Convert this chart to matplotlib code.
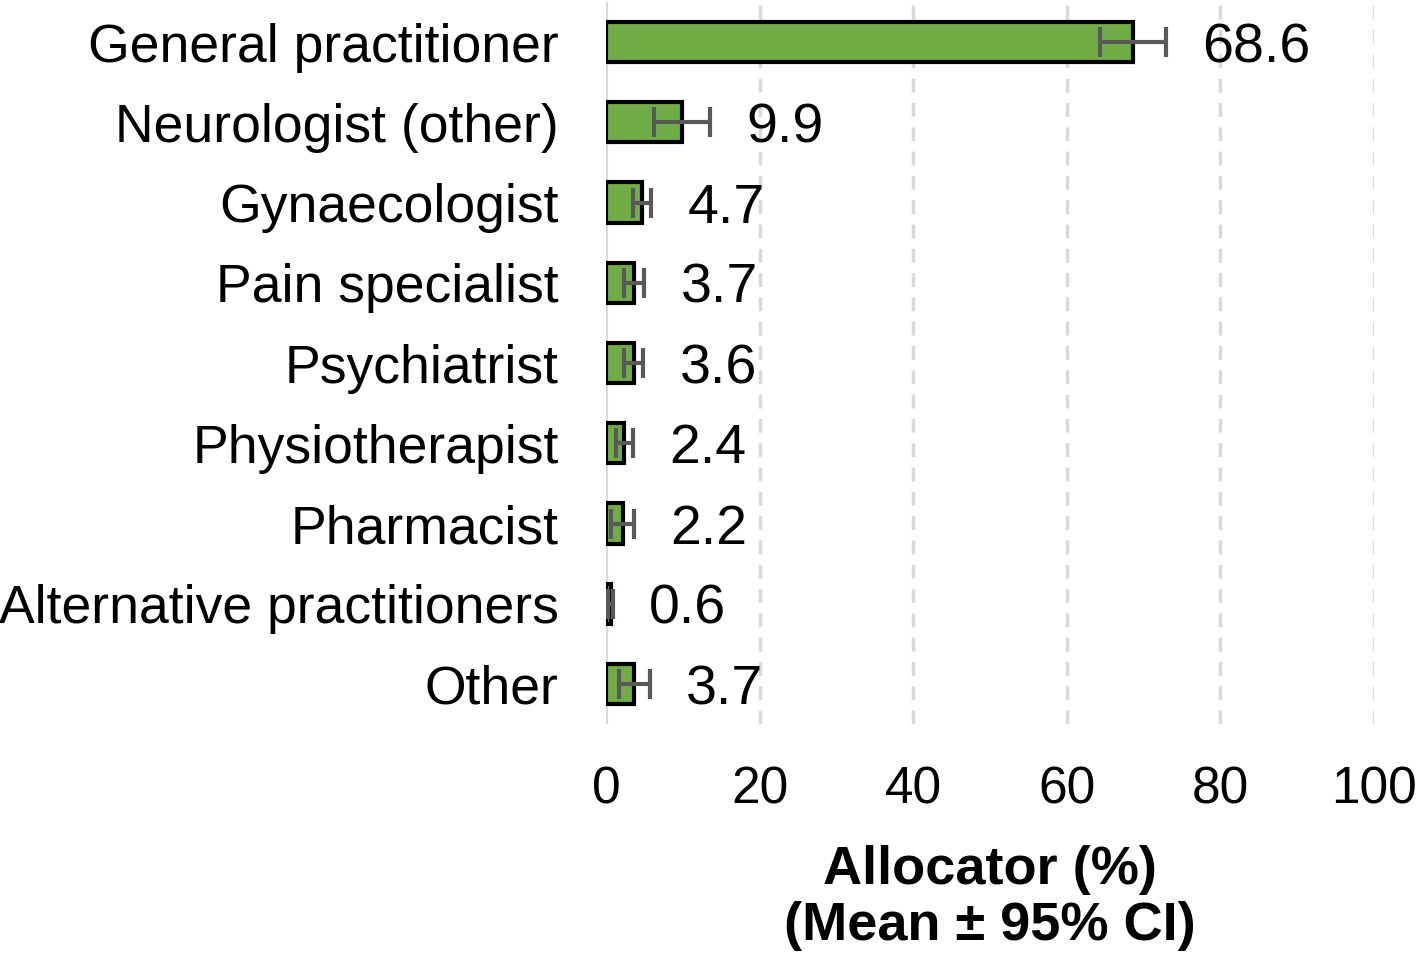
import matplotlib
matplotlib.use("Agg")
import matplotlib.pyplot as plt
from matplotlib import font_manager

categories = ["General practitioner", "Neurologist (other)", "Gynaecologist",
              "Pain specialist", "Psychiatrist", "Physiotherapist", "Pharmacist",
              "Alternative practitioners", "Other"]
means = [68.6, 9.9, 4.7, 3.7, 3.6, 2.4, 2.2, 0.6, 3.7]
ci = [4.3, 3.7, 1.2, 1.3, 1.25, 1.1, 1.5, 0.3, 2.0]
labels = ["68.6", "9.9", "4.7", "3.7", "3.6", "2.4", "2.2", "0.6", "3.7"]
xticks = [0, 20, 40, 60, 80, 100]

names = {f.name for f in font_manager.fontManager.ttflist}
base = "Liberation Sans" if "Liberation Sans" in names else "DejaVu Sans"
narrow = "Liberation Sans Narrow" if "Liberation Sans Narrow" in names else base
plt.rcParams['font.family'] = [base, 'DejaVu Sans']

fig = plt.figure(figsize=(14.18, 9.63), dpi=100)
ax = fig.add_axes([0.4274, 0.248, 0.5416, 0.750])

y = list(range(len(categories)))
ax.barh(y, means, height=0.5, color="#70AD47", edgecolor="black", linewidth=3, zorder=3)
ax.errorbar(means, y, xerr=ci, fmt="none", ecolor="#595959", elinewidth=3,
            capsize=11, capthick=3, zorder=4)

for yi, m, e, t in zip(y, means, ci, labels):
    ax.annotate(t, xy=(m + e, yi), xytext=(26, 0), textcoords="offset points",
                va="center_baseline", ha="left", fontsize=40, color="black")

ax.set_xlim(0, 100)
ax.set_ylim(len(categories) - 0.5, -0.5)
ax.set_yticks(y)
ax.set_yticklabels(categories, fontsize=38.5)
for lab in ax.get_yticklabels():
    lab.set_verticalalignment("center_baseline")
ax.set_xticks(xticks)
ax.set_xticklabels([str(v) for v in xticks], fontsize=37, family=[narrow, 'DejaVu Sans'])
ax.tick_params(axis="y", length=0, pad=34)
ax.tick_params(axis="x", length=0, pad=30)

for v in xticks[1:]:
    ax.axvline(v, color="#D9D9D9", linestyle=(0, (4, 3)), linewidth=2.5, zorder=1)
ax.axvline(0, color="#D9D9D9", linewidth=3, zorder=2)

for s in ax.spines.values():
    s.set_visible(False)

ax.set_xlabel("Allocator (%)\n(Mean ± 95% CI)", fontsize=39, fontweight="bold",
              family=[narrow, 'DejaVu Sans'], labelpad=22, linespacing=1.15)

fig.savefig("out.png", dpi=100)
